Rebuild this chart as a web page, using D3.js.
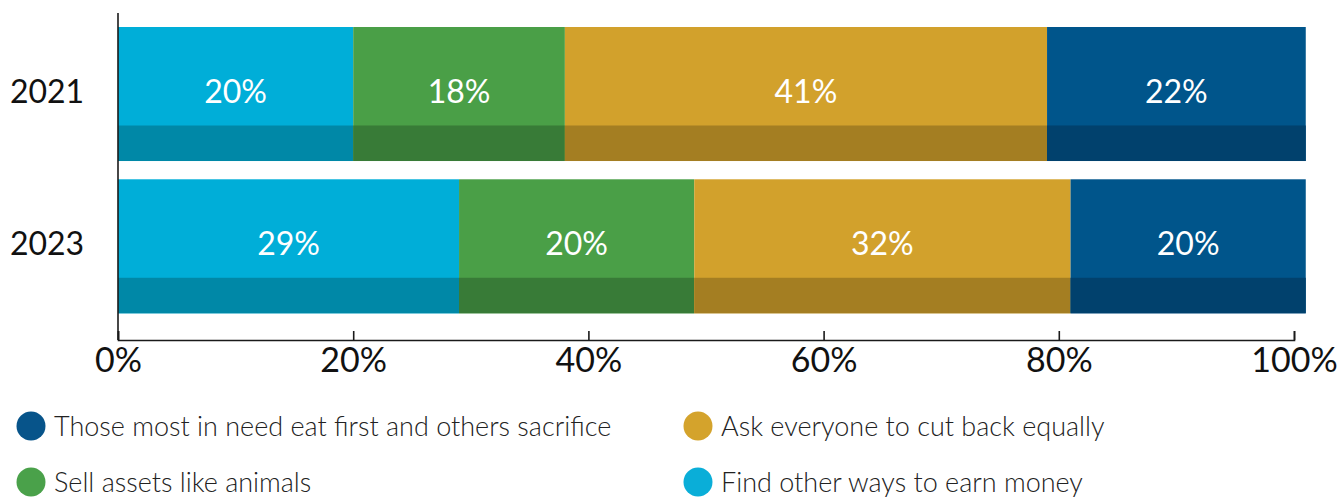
<!DOCTYPE html>
<html>
<head>
<meta charset="utf-8">
<script src="https://cdn.jsdelivr.net/npm/d3@7"></script>
<style>
  html, body { margin: 0; padding: 0; background: #ffffff; }
  svg { display: block; }
</style>
</head>
<body>
<div id="container"></div>
<script>
// Stacked horizontal bars, two years, four coping strategies

// ---------------------------------------------------------------------------
// Data
// ---------------------------------------------------------------------------
const years = ['2021', '2023'];
const seriesKeys = ['other', 'sell', 'cut', 'need'];   // stack order, left to right
const seriesLabels = {
  need:  'Those most in need eat first and others sacrifice',
  cut:   'Ask everyone to cut back equally',
  sell:  'Sell assets like animals',
  other: 'Find other ways to earn money',
};
const otherValues = [20, 29];
const sellValues  = [18, 20];
const cutValues   = [41, 32];
const needValues  = [22, 20];
const xTicks = [0, 20, 40, 60, 80, 100];
const legendOrder = ['need', 'cut', 'sell', 'other'];

// ---------------------------------------------------------------------------
// Style
// ---------------------------------------------------------------------------
const colors = {
  other: { main: '#00aed8', dark: '#0088a7' },
  sell:  { main: '#4a9f47', dark: '#387b37' },
  cut:   { main: '#d2a12c', dark: '#a47e22' },
  need:  { main: '#00558b', dark: '#01416d' },
};
const legendColors = { need: '#07548a', cut: '#d4a32c', sell: '#4aa14a', other: '#0aaed8' };
const FONT = 'Lato, "Noto Sans", sans-serif';

const W = 1340, H = 498;
const x0 = 118, x1 = 1294;

// ---------------------------------------------------------------------------
// Build stacked table
// ---------------------------------------------------------------------------
const table = years.map((year, i) => ({
  year,
  other: otherValues[i],
  sell:  sellValues[i],
  cut:   cutValues[i],
  need:  needValues[i],
}));
const stacked = d3.stack().keys(seriesKeys)(table);

// ---------------------------------------------------------------------------
// Scales
// ---------------------------------------------------------------------------
const x = d3.scaleLinear().domain([0, 100]).range([x0, x1]);
const y = d3.scaleBand().domain(years).range([27, 313.3]).paddingInner(0.12).paddingOuter(0);
const darkFrac = 0.265;

const svg = d3.select('#container').append('svg')
  .attr('width', W)
  .attr('height', H);

// ── Bars ──────────────────────────────────────────────────────────────────
const layer = svg.append('g')
  .selectAll('g')
  .data(stacked)
  .join('g');

layer.selectAll('rect.main')
  .data(d => d.map(p => ({ key: d.key, p })))
  .join('rect')
  .attr('class', 'main')
  .attr('x', d => x(d.p[0]))
  .attr('width', d => x(d.p[1]) - x(d.p[0]))
  .attr('y', d => y(d.p.data.year))
  .attr('height', y.bandwidth())
  .attr('fill', d => colors[d.key].main);

layer.selectAll('rect.dark')
  .data(d => d.map(p => ({ key: d.key, p })))
  .join('rect')
  .attr('class', 'dark')
  .attr('x', d => x(d.p[0]))
  .attr('width', d => x(d.p[1]) - x(d.p[0]))
  .attr('y', d => y(d.p.data.year) + y.bandwidth() * (1 - darkFrac))
  .attr('height', y.bandwidth() * darkFrac)
  .attr('fill', d => colors[d.key].dark);

layer.selectAll('text')
  .data(d => d.map(p => ({ key: d.key, p })))
  .join('text')
  .attr('x', d => (x(d.p[0]) + x(d.p[1])) / 2)
  .attr('y', d => y(d.p.data.year) + y.bandwidth() / 2 + 9)
  .attr('text-anchor', 'middle')
  .attr('fill', '#ffffff')
  .attr('font-family', FONT)
  .attr('font-size', '32px')
  .text(d => `${d.p[1] - d.p[0]}%`);

// ── Year labels ───────────────────────────────────────────────────────────
svg.append('g')
  .selectAll('text')
  .data(years)
  .join('text')
  .attr('x', 47)
  .attr('y', d => y(d) + y.bandwidth() / 2 + 9)
  .attr('text-anchor', 'middle')
  .attr('fill', '#111111')
  .attr('font-family', FONT)
  .attr('font-size', '32px')
  .text(d => d);

// ── Axes ──────────────────────────────────────────────────────────────────
const axisY = 340;
const xAxis = svg.append('g')
  .attr('transform', `translate(0,${axisY})`)
  .call(d3.axisBottom(x).tickValues(xTicks).tickSize(-9).tickPadding(8).tickFormat(d => `${d}%`));
xAxis.select('.domain').attr('stroke', '#1a1a1a').attr('stroke-width', 1.6);
xAxis.selectAll('.tick line').attr('stroke', '#1a1a1a').attr('stroke-width', 1.6);
xAxis.selectAll('.tick text')
  .attr('fill', '#111111')
  .attr('font-family', FONT)
  .attr('font-size', '34px');

svg.append('line')
  .attr('x1', x(0)).attr('x2', x(0))
  .attr('y1', 13).attr('y2', axisY)
  .attr('stroke', '#1a1a1a')
  .attr('stroke-width', 1.6);

// ── Legend ────────────────────────────────────────────────────────────────
const legendCols = [31, 698];
const legendRows = [426, 482];
const legend = svg.append('g')
  .selectAll('g')
  .data(legendOrder)
  .join('g')
  .attr('transform', (d, i) => `translate(${legendCols[i % 2]},${legendRows[Math.floor(i / 2)]})`);

legend.append('circle')
  .attr('r', 14.5)
  .attr('fill', d => legendColors[d]);

legend.append('text')
  .attr('x', 23)
  .attr('y', 10)
  .attr('fill', '#222222')
  .attr('font-family', FONT)
  .attr('font-size', '27px')
  .attr('font-weight', 300)
  .text(d => seriesLabels[d]);
</script>
</body>
</html>
